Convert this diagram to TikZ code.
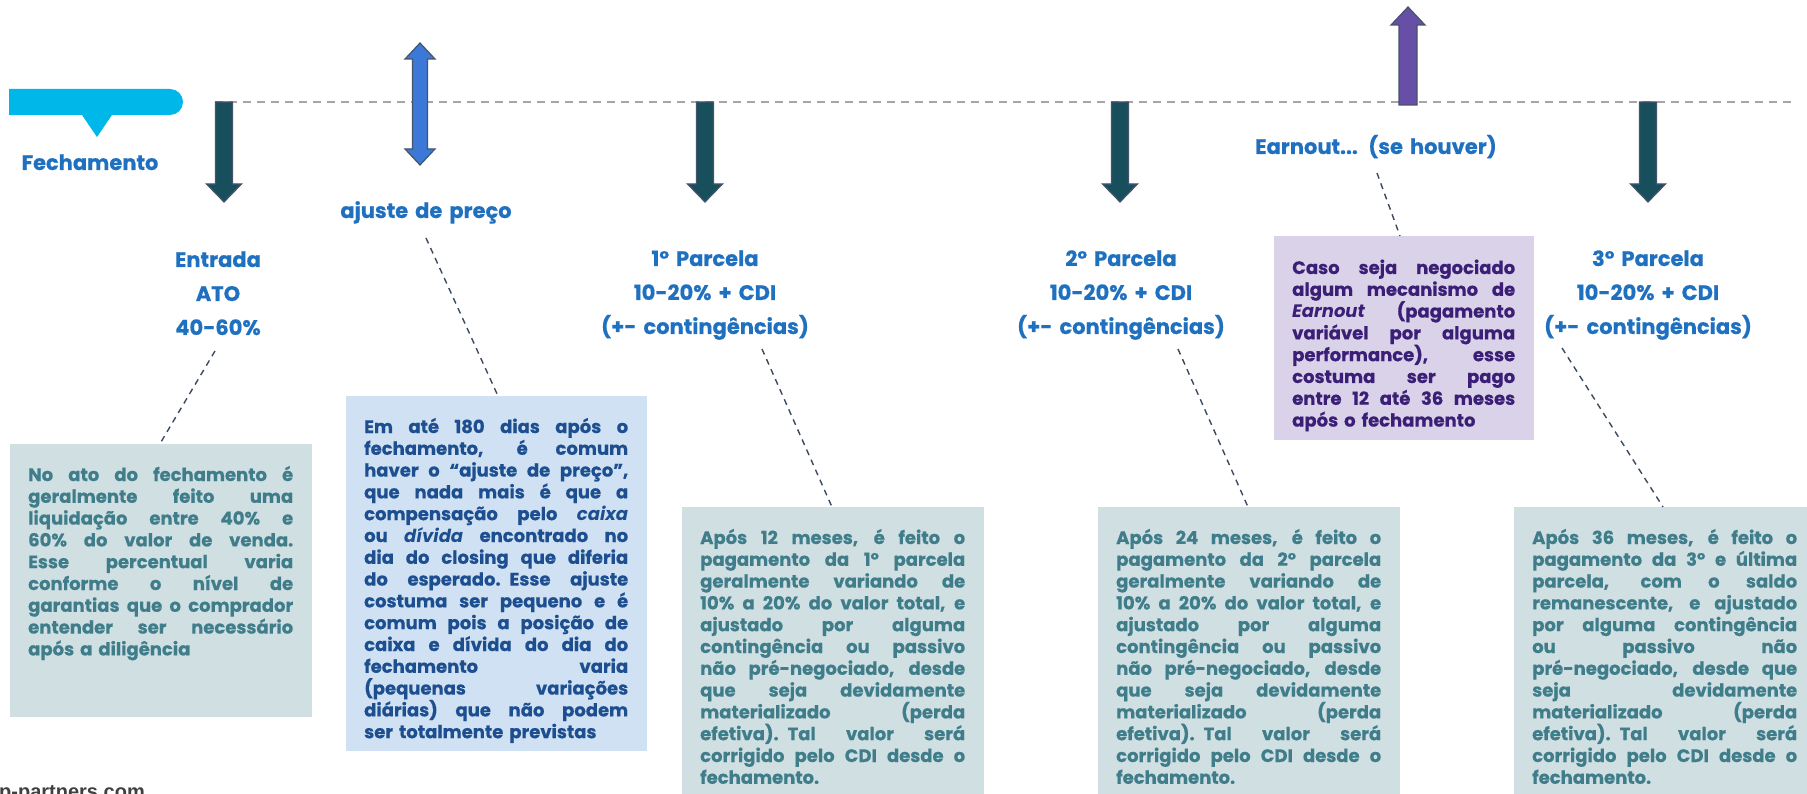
\documentclass[tikz,border=0pt]{standalone}
\usepackage{fontspec}
\setmainfont{Poppins}[BoldFeatures={FakeBold=0.5}]
\newfontfamily\footfont{Liberation Sans}
\definecolor{headblue}{HTML}{1F70BF}
\definecolor{callcyan}{HTML}{00B7EA}
\definecolor{darrowfill}{HTML}{184F5C}
\definecolor{arrowedge}{HTML}{44546A}
\definecolor{dblblue}{HTML}{3C78D8}
\definecolor{purparrow}{HTML}{674EA7}
\definecolor{tealbox}{HTML}{D0DFE2}
\definecolor{tealtext}{HTML}{3F7D8A}
\definecolor{bluebox}{HTML}{CFE1F2}
\definecolor{bluetext}{HTML}{1D4E8F}
\definecolor{purpbox}{HTML}{D9D2E9}
\definecolor{purptext}{HTML}{3B1F77}
\definecolor{timeline}{HTML}{A6A6A6}
\definecolor{connector}{HTML}{3B4A5E}
\newcommand\JL[1]{\hbox to \hsize{\spaceskip=0.3em plus 1fil\relax #1}}
\newcommand\LL[1]{\hbox{#1}}
\begin{document}
\begin{tikzpicture}[x=1pt,y=-1pt,
  heading/.style={inner sep=0pt, anchor=base, text width=320pt, align=center,
    font=\bfseries\fontsize{21}{34}\selectfont, text=headblue},
  boxbg/.style={inner sep=0pt, anchor=north west, draw=none},
  boxtext/.style={inner sep=0pt, anchor=base west, text width=265pt,
    font=\bfseries\fontsize{18}{21.8}\selectfont},
  conn/.style={draw=connector, line width=1.4pt, dash pattern=on 6pt off 5pt},
  downarr/.style={fill=darrowfill, draw=arrowedge, line width=1.2pt, line join=miter},
]
\useasboundingbox (0,0) rectangle (1807,794);

% timeline
\coordinate (tlA) at (215,102);
\coordinate (tlB) at (1792,102);
\draw[timeline, line width=1.8pt, dash pattern=on 8pt off 6pt] (tlA) -- (tlB);

% callout
\fill[callcyan] (9,89) -- (170,89) .. controls (177.2,89) and (183,94.8) .. (183,102)
  .. controls (183,109.2) and (177.2,115) .. (170,115) -- (112,115) -- (97,137) -- (82,115) -- (9,115) -- cycle;

% down arrows
\foreach \cx in {224,705,1120,1648}{
  \draw[downarr] (\cx-8.5,102) -- (\cx+8.5,102) -- (\cx+8.5,184) -- (\cx+17.5,184)
    -- (\cx,202) -- (\cx-17.5,184) -- (\cx-8.5,184) -- cycle;
}
% double arrow
\draw[fill=dblblue, draw=arrowedge, line width=1.2pt] (420,43) -- (435,59) -- (427.5,59) -- (427.5,149) -- (435,149)
  -- (420,165) -- (405,149) -- (412.5,149) -- (412.5,59) -- (405,59) -- cycle;
% purple arrow
\draw[fill=purparrow, draw=arrowedge, line width=1.2pt] (1408,7) -- (1425,25) -- (1417,25) -- (1417,105)
  -- (1399,105) -- (1399,25) -- (1391,25) -- cycle;

% headings
\node[heading] (fech) at (90,170) {Fechamento};
\node[heading] (entr) at (218,267) {Entrada\\ATO\\40-60\%};
\node[heading] (ajus) at (426,218) {ajuste de preço};
\node[heading] (par1) at (705,266) {1° Parcela\\10-20\% + CDI\\(+- contingências)};
\node[heading] (par2) at (1121,266) {2° Parcela\\10-20\% + CDI\\(+- contingências)};
\node[heading] (par3) at (1648,266) {3° Parcela\\10-20\% + CDI\\(+- contingências)};
\node[heading] (earn) at (1376,154) {Earnout... (se houver)};

% box backgrounds
\node[boxbg, fill=tealbox, minimum width=302pt, minimum height=273pt] (b1) at (10,444) {};
\node[boxbg, fill=bluebox, minimum width=301pt, minimum height=355pt] (b2) at (346,396) {};
\node[boxbg, fill=tealbox, minimum width=302pt, minimum height=300pt] (b3) at (682,507) {};
\node[boxbg, fill=tealbox, minimum width=302pt, minimum height=300pt] (b4) at (1098,507) {};
\node[boxbg, fill=tealbox, minimum width=300pt, minimum height=300pt] (b5) at (1514,507) {};
\node[boxbg, fill=purpbox, minimum width=260pt, minimum height=204pt] (b6) at (1274,236) {};

% box texts
\node[boxtext, text=tealtext] (t1) at (28,481) {%
\JL{No ato do fechamento é}
\JL{geralmente feito uma}
\JL{liquidação entre 40\% e}
\JL{60\% do valor de venda.}
\JL{Esse percentual varia}
\JL{conforme o nível de}
\JL{garantias que o comprador}
\JL{entender ser necessário}
\LL{após a diligência}};

\node[boxtext, text=bluetext, text width=264pt] (t2) at (364,433) {%
\JL{Em até 180 dias após o}
\JL{fechamento, é comum}
\JL{haver o “ajuste de preço”,}
\JL{que nada mais é que a}
\JL{compensação pelo \textit{caixa}}
\JL{ou \textit{dívida} encontrado no}
\JL{dia do closing que diferia}
\JL{do esperado. Esse ajuste}
\JL{costuma ser pequeno e é}
\JL{comum pois a posição de}
\JL{caixa e dívida do dia do}
\JL{fechamento varia}
\JL{(pequenas variações}
\JL{diárias) que não podem}
\LL{ser totalmente previstas}};

\node[boxtext, text=tealtext] (t3) at (700,544) {%
\JL{Após 12 meses, é feito o}
\JL{pagamento da 1° parcela}
\JL{geralmente variando de}
\JL{10\% a 20\% do valor total, e}
\JL{ajustado por alguma}
\JL{contingência ou passivo}
\JL{não pré-negociado, desde}
\JL{que seja devidamente}
\JL{materializado (perda}
\JL{efetiva). Tal valor será}
\JL{corrigido pelo CDI desde o}
\LL{fechamento.}};

\node[boxtext, text=tealtext] (t4) at (1116,544) {%
\JL{Após 24 meses, é feito o}
\JL{pagamento da 2° parcela}
\JL{geralmente variando de}
\JL{10\% a 20\% do valor total, e}
\JL{ajustado por alguma}
\JL{contingência ou passivo}
\JL{não pré-negociado, desde}
\JL{que seja devidamente}
\JL{materializado (perda}
\JL{efetiva). Tal valor será}
\JL{corrigido pelo CDI desde o}
\LL{fechamento.}};

\node[boxtext, text=tealtext] (t5) at (1532,544) {%
\JL{Após 36 meses, é feito o}
\JL{pagamento da 3° e última}
\JL{parcela, com o saldo}
\JL{remanescente, e ajustado}
\JL{por alguma contingência}
\JL{ou passivo não}
\JL{pré-negociado, desde que}
\JL{seja devidamente}
\JL{materializado (perda}
\JL{efetiva). Tal valor será}
\JL{corrigido pelo CDI desde o}
\LL{fechamento.}};

\node[boxtext, text=purptext, text width=223pt] (t6) at (1292,274) {%
\JL{Caso seja negociado}
\JL{algum mecanismo de}
\JL{\textit{Earnout} (pagamento}
\JL{variável por alguma}
\JL{performance), esse}
\JL{costuma ser pago}
\JL{entre 12 até 36 meses}
\LL{após o fechamento}};

% connectors
\coordinate (c1a) at (215,351); \coordinate (c1b) at (161,442);
\coordinate (c2a) at (426,238); \coordinate (c2b) at (498,396);
\coordinate (c3a) at (762,349); \coordinate (c3b) at (832,507);
\coordinate (c4a) at (1178,349); \coordinate (c4b) at (1248,507);
\coordinate (c5a) at (1562,348); \coordinate (c5b) at (1663,507);
\coordinate (c6a) at (1377,173); \coordinate (c6b) at (1400,236);
\draw[conn] (c1a) -- (c1b);
\draw[conn] (c2a) -- (c2b);
\draw[conn] (c3a) -- (c3b);
\draw[conn] (c4a) -- (c4b);
\draw[conn] (c5a) -- (c5b);
\draw[conn] (c6a) -- (c6b);

% footer
\node[inner sep=0pt, anchor=base west, font=\footfont\bfseries\fontsize{20}{24}\selectfont, text=black!75] (foot) at (-1,798) {p-partners.com};
\end{tikzpicture}
\end{document}
